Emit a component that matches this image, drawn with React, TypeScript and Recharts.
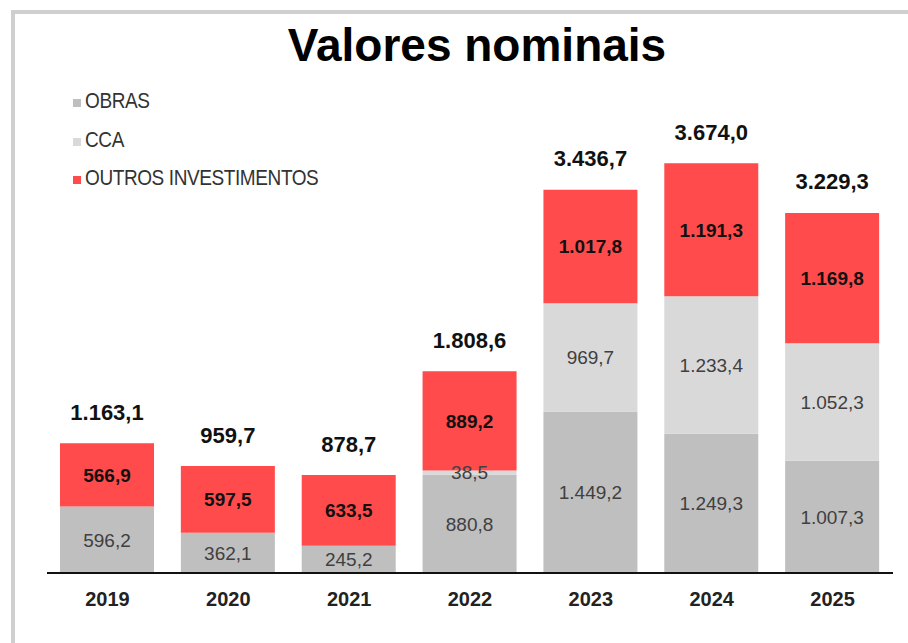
import { useEffect } from "react";
import { BarChart, Bar, XAxis, YAxis, LabelList, Legend } from "recharts";

const years = ["2019", "2020", "2021", "2022", "2023", "2024", "2025"];
const obras = [596.2, 362.1, 245.2, 880.8, 1449.2, 1249.3, 1007.3];
const cca = [0, 0, 0, 38.5, 969.7, 1233.4, 1052.3];
const outros = [566.9, 597.5, 633.5, 889.2, 1017.8, 1191.3, 1169.8];
const totals = [1163.1, 959.7, 878.7, 1808.6, 3436.7, 3674.0, 3229.3];

const legendOrder = ["OBRAS", "CCA", "OUTROS INVESTIMENTOS"];

const data = years.map((year, i) => ({
  year,
  obras: obras[i],
  cca: cca[i],
  outros: outros[i],
  total: totals[i],
}));

const FONT = "'Liberation Sans', Arial, sans-serif";
const COLORS = { obras: "#BFBFBF", cca: "#D9D9D9", outros: "#FF4B4B" };

// 1163.1 -> "1.163,1"
function fmt(v: number): string {
  if (!v) return "";
  const [int, dec] = v.toFixed(1).split(".");
  return int.replace(/\B(?=(\d{3})+(?!\d))/g, ".") + "," + dec;
}

function LegendBox({ payload }: any) {
  const items = legendOrder
    .map((name) => (payload || []).find((p: any) => p.value === name))
    .filter(Boolean);
  return (
    <div style={{ fontFamily: FONT }}>
      {items.map((item: any) => (
        <div
          key={item.value}
          style={{ display: "flex", alignItems: "center", height: 38.5 }}
        >
          <span
            style={{
              display: "inline-block",
              width: 8,
              height: 8,
              marginTop: 4,
              marginRight: 4,
              background: item.color,
            }}
          />
          <span
            style={{
              fontSize: 19,
              letterSpacing: -0.4,
              color: "#333",
              display: "inline-block",
              transform: "scaleY(1.12)",
            }}
          >
            {item.value}
          </span>
        </div>
      ))}
    </div>
  );
}

function TotalLabel(props: any) {
  const { x, y, width, value } = props;
  return (
    <text
      x={x + width / 2}
      y={y - 31}
      textAnchor="middle"
      dominantBaseline="central"
      fontFamily={FONT}
      fontSize={22}
      fontWeight="bold"
      fill="#111"
    >
      {fmt(value)}
    </text>
  );
}

export default function App() {
  useEffect(() => {
    document.documentElement.style.overflow = "hidden";
    document.body.style.overflow = "hidden";
  }, []);

  return (
    <div
      style={{
        position: "fixed",
        left: 0,
        top: 0,
        width: 908,
        height: 643,
        overflow: "hidden",
        background: "#fff",
      }}
    >
      <div
        style={{
          position: "absolute",
          left: 11,
          top: 10,
          width: 1000,
          height: 1000,
          borderTop: "4px solid #cfcfcf",
          borderLeft: "4px solid #cfcfcf",
        }}
      />
      <div
        style={{
          position: "absolute",
          left: 0,
          width: 954,
          top: 22,
          textAlign: "center",
          fontFamily: FONT,
          fontWeight: "bold",
          fontSize: 46,
          lineHeight: "46px",
          color: "#000",
        }}
      >
        Valores nominais
      </div>
      <div style={{ position: "absolute", left: 0, top: 0 }}>
        <BarChart
          width={908}
          height={643}
          data={data}
          margin={{ top: 127, right: 15, bottom: 40, left: 47 }}
        >
          <XAxis
            dataKey="year"
            height={30}
            axisLine={{ stroke: "#111", strokeWidth: 2 }}
            tickLine={false}
            tickSize={0}
            tickMargin={19}
            tick={{ fill: "#222", fontSize: 20, fontWeight: "bold", fontFamily: FONT }}
          />
          <YAxis hide domain={[0, 4000]} />
          <Legend
            layout="vertical"
            align="center"
            verticalAlign="middle"
            wrapperStyle={{ left: 73, top: 82, width: "auto" }}
            content={<LegendBox />}
          />
          <Bar
            dataKey="obras"
            name="OBRAS"
            stackId="a"
            fill={COLORS.obras}
            barSize={94}
            isAnimationActive={false}
          >
            <LabelList
              dataKey="obras"
              position="center"
              formatter={(v: any) => fmt(v)}
              fill="#404040"
              fontSize={19}
              fontFamily={FONT}
            />
          </Bar>
          <Bar
            dataKey="cca"
            name="CCA"
            stackId="a"
            fill={COLORS.cca}
            barSize={94}
            isAnimationActive={false}
          >
            <LabelList
              dataKey="cca"
              position="center"
              formatter={(v: any) => fmt(v)}
              fill="#404040"
              fontSize={19}
              fontFamily={FONT}
            />
          </Bar>
          <Bar
            dataKey="outros"
            name="OUTROS INVESTIMENTOS"
            stackId="a"
            fill={COLORS.outros}
            barSize={94}
            isAnimationActive={false}
          >
            <LabelList
              dataKey="outros"
              position="center"
              formatter={(v: any) => fmt(v)}
              fill="#111"
              fontSize={19}
              fontWeight="bold"
              fontFamily={FONT}
            />
            <LabelList dataKey="total" content={<TotalLabel />} />
          </Bar>
        </BarChart>
      </div>
    </div>
  );
}
